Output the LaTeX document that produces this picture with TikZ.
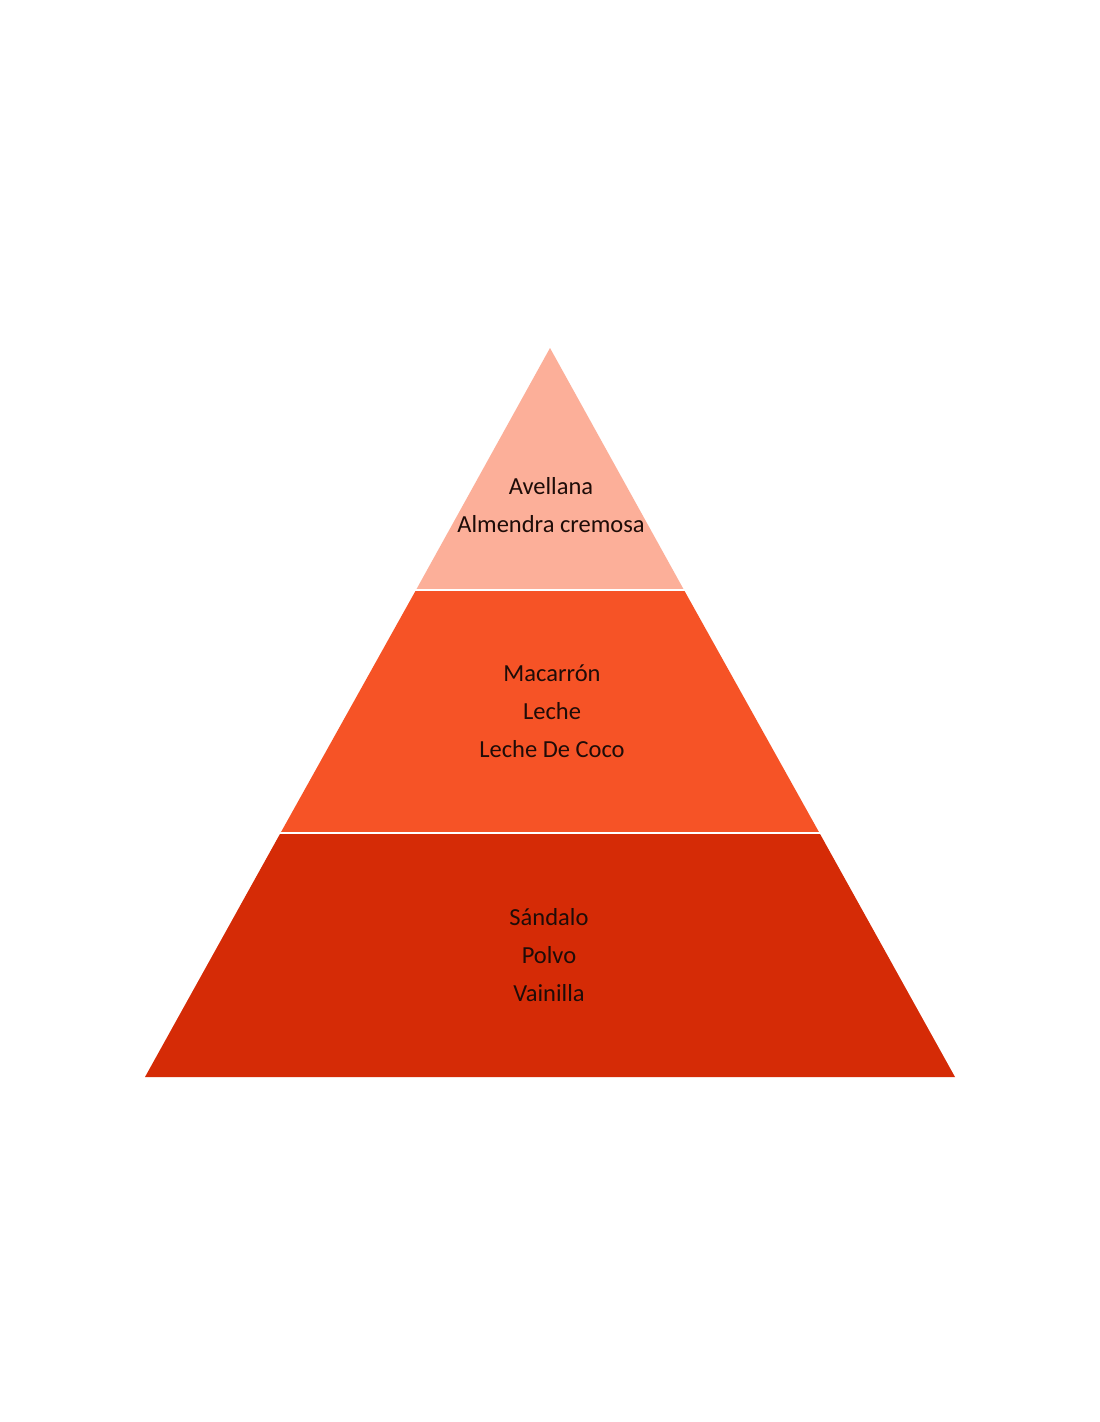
\documentclass[tikz,border=0pt]{standalone}
\usepackage{fontspec}
\setmainfont{Carlito}
\definecolor{tierTop}{HTML}{FCAF99}
\definecolor{tierMid}{HTML}{F65326}
\definecolor{tierBase}{HTML}{D52B06}
\definecolor{noteText}{HTML}{1E0C08}
\begin{document}
\begin{tikzpicture}[x=1pt,y=-1pt, every node/.style={font=\fontsize{24.5}{38}\selectfont,text=noteText,align=center,inner sep=0pt}]
  \useasboundingbox[fill=white] (0,0) rectangle (1100,1422);
  % Tiers
  \fill[tierBase] (280.5,833) -- (819.5,833) -- (955,1077) -- (145,1077) -- cycle;
  \fill[tierMid] (416,590) -- (684,590) -- (819.5,833) -- (280.5,833) -- cycle;
  \fill[tierTop] (550,348) -- (684,590) -- (416,590) -- cycle;
  % Separators
  \draw[white,line width=2.5pt] (410,590) -- (690,590);
  \draw[white,line width=2.5pt] (274,833) -- (826,833);
  % Notes
  \node (top) at (551,505) {Avellana\\Almendra cremosa};
  \node (mid) at (552,711) {Macarrón\\Leche\\Leche De Coco};
  \node (base) at (549,955) {Sándalo\\Polvo\\Vainilla};
\end{tikzpicture}
\end{document}
